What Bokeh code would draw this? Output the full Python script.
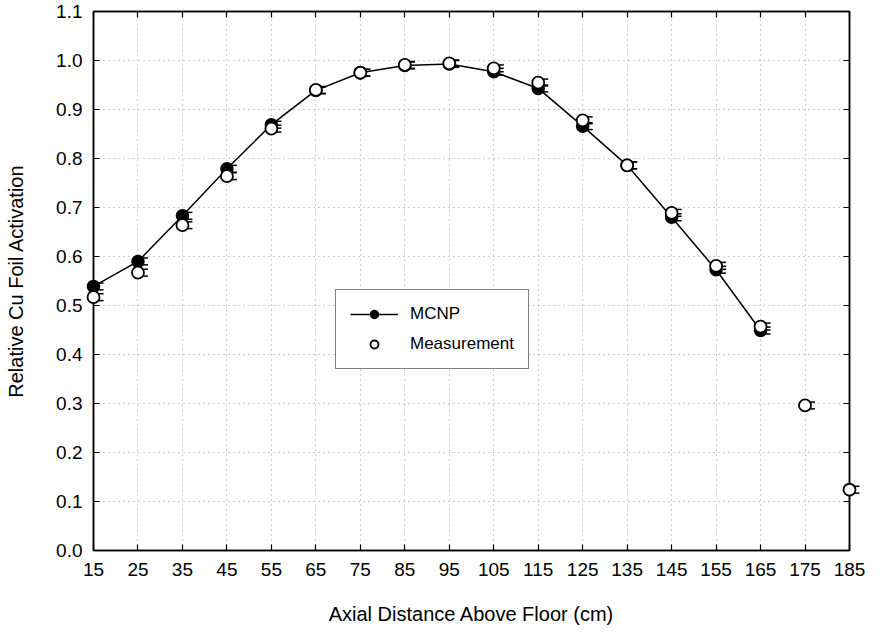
from bokeh.plotting import figure
from bokeh.models import (Range1d, LinearAxis, FixedTicker, Legend, LegendItem,
                          ColumnDataSource, CustomJSTickFormatter, CustomLabelingPolicy)
from bokeh.embed import file_html
from bokeh.resources import INLINE

# ---- data ----
x_mcnp = [15, 25, 35, 45, 55, 65, 75, 85, 95, 105, 115, 125, 135, 145, 155, 165]
mcnp = [0.539, 0.590, 0.683, 0.779, 0.869, 0.939, 0.975, 0.990, 0.993, 0.977,
        0.943, 0.866, 0.786, 0.680, 0.573, 0.449]
mcnp_err = [0.007] * len(x_mcnp)

x_meas = [15, 25, 35, 45, 55, 65, 75, 85, 95, 105, 115, 125, 135, 145, 155, 165, 175, 185]
meas = [0.517, 0.567, 0.664, 0.764, 0.861, 0.940, 0.975, 0.991, 0.994, 0.984,
        0.955, 0.878, 0.786, 0.689, 0.581, 0.457, 0.296, 0.124]
meas_err = [0.007] * len(x_meas)

x_ticks = list(range(15, 186, 10))
y_ticks = [0.0, 0.1, 0.2, 0.3, 0.4, 0.5, 0.6, 0.7, 0.8, 0.9, 1.0, 1.1]

FONT = "Liberation Sans"
ERR_SHIFT = 1.0    # error bars drawn slightly right of the markers (x units)
CAP_HALF = 1.25    # half cap width (x units)

p = figure(width=874, height=627, output_backend="svg", toolbar_location=None,
           x_range=Range1d(15, 185), y_range=Range1d(0, 1.1),
           min_border_left=93, min_border_right=25, min_border_top=9,
           min_border_bottom=74, x_axis_label="Axial Distance Above Floor (cm)",
           y_axis_label="Relative Cu Foil Activation")
p.background_fill_color = "white"
p.border_fill_color = "white"
p.outline_line_color = "black"
p.outline_line_width = 1.5

for ax in (p.xaxis[0], p.yaxis[0]):
    ax.axis_line_width = 1.5
    ax.major_tick_in = 6
    ax.major_tick_out = 0
    ax.major_tick_line_width = 1.2
    ax.minor_tick_line_color = None
    ax.major_label_text_font = FONT
    ax.major_label_text_font_size = "19px"
    ax.major_label_text_color = "black"
    ax.axis_label_text_font = FONT
    ax.axis_label_text_font_size = "20px"
    ax.axis_label_text_font_style = "normal"
    ax.axis_label_text_color = "black"

p.xaxis.major_label_standoff = 12
p.xaxis.axis_label_standoff = 24
p.yaxis.major_label_standoff = 11
p.yaxis.axis_label_standoff = 26

p.xaxis.ticker = FixedTicker(ticks=x_ticks)
p.yaxis.ticker = FixedTicker(ticks=y_ticks)
p.yaxis.formatter = CustomJSTickFormatter(code="return tick.toFixed(1);")

no_labels = "const ids = [...indices]; for (const i of ids) { indices.unset(i) } return indices"
top = LinearAxis(ticker=FixedTicker(ticks=x_ticks), major_tick_in=6, major_tick_out=0,
                 major_tick_line_width=1.2, minor_tick_line_color=None,
                 major_label_policy=CustomLabelingPolicy(code=no_labels),
                 axis_line_width=1.5, major_label_standoff=0)
right = LinearAxis(ticker=FixedTicker(ticks=y_ticks), major_tick_in=6, major_tick_out=0,
                   major_tick_line_width=1.2, minor_tick_line_color=None,
                   major_label_policy=CustomLabelingPolicy(code=no_labels),
                   axis_line_width=1.5, major_label_standoff=0)
p.add_layout(top, "above")
p.add_layout(right, "right")

p.xgrid.ticker = FixedTicker(ticks=x_ticks)
p.ygrid.ticker = FixedTicker(ticks=y_ticks)
p.grid.grid_line_color = "#9a9a9a"
p.grid.grid_line_dash = "1 4"
p.grid.grid_line_width = 1


def err_sources(xs, ys, es):
    stems = ColumnDataSource(dict(
        x0=[x + ERR_SHIFT for x in xs], x1=[x + ERR_SHIFT for x in xs],
        y0=[y - e for y, e in zip(ys, es)], y1=[y + e for y, e in zip(ys, es)]))
    caps = ColumnDataSource(dict(
        x0=[x + ERR_SHIFT - CAP_HALF for x in xs] * 2,
        x1=[x + ERR_SHIFT + CAP_HALF for x in xs] * 2,
        y=[y - e for y, e in zip(ys, es)] + [y + e for y, e in zip(ys, es)]))
    return stems, caps


line = p.line(x_mcnp, mcnp, line_color="black", line_width=1.5)

st_m, cp_m = err_sources(x_mcnp, mcnp, mcnp_err)
p.segment(x0="x0", x1="x1", y0="y0", y1="y1", source=st_m, line_color="black",
          line_width=1.5, level="overlay")
p.segment(x0="x0", x1="x1", y0="y", y1="y", source=cp_m, line_color="black",
          line_width=1.5, level="overlay")
dots = p.scatter(x_mcnp, mcnp, size=12, marker="circle", fill_color="black",
                 line_color="black", line_width=1.5, level="overlay")

st_e, cp_e = err_sources(x_meas, meas, meas_err)
p.segment(x0="x0", x1="x1", y0="y0", y1="y1", source=st_e, line_color="black",
          line_width=1.5, level="overlay")
p.segment(x0="x0", x1="x1", y0="y", y1="y", source=cp_e, line_color="black",
          line_width=1.5, level="overlay")
opens = p.scatter(x_meas, meas, size=12, marker="circle", fill_color="white",
                  line_color="black", line_width=1.8, level="overlay")

legend = Legend(items=[LegendItem(label="MCNP", renderers=[line, dots]),
                       LegendItem(label="Measurement", renderers=[opens])],
                location=(242, 181), border_line_color="black", border_line_width=1,
                label_text_font=FONT, label_text_font_size="17px",
                label_text_color="black",
                glyph_width=48, glyph_height=20, label_height=20,
                spacing=10, padding=14, margin=0, label_standoff=12,
                background_fill_alpha=1)
p.add_layout(legend, "center")

open("out.html", "w").write(file_html(p, INLINE))
